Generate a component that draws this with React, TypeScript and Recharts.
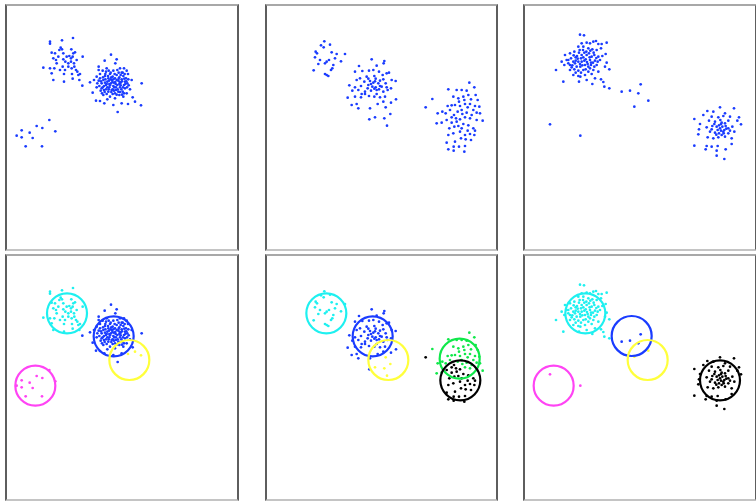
import { ScatterChart, Scatter, XAxis, YAxis } from "recharts";

type Pt = [number, number];

const p1Upper: Pt[] = [
  [150, 125], [150, 131], [186, 121], [219, 114], [182, 143], [186, 148], [178, 150], [155, 158],
  [165, 160], [190, 160], [214, 148], [208, 168], [220, 160], [225, 157], [218, 170], [213, 175],
  [160, 175], [168, 180], [175, 170], [190, 178], [196, 185], [205, 190], [213, 185], [222, 190],
  [248, 170], [130, 203], [150, 205], [163, 205], [180, 210], [188, 200], [195, 210], [205, 200],
  [215, 205], [223, 200], [228, 210], [232, 215], [235, 225], [155, 220], [192, 222], [216, 222],
  [240, 222], [160, 240], [192, 245], [218, 236], [238, 240], [170, 190], [200, 170], [230, 180],
];
const p1Center: Pt[] = [
  [333, 164], [314, 182], [350, 178], [346, 190], [296, 200], [296, 210], [320, 205], [360, 205],
  [372, 205], [380, 212], [384, 222], [270, 247], [282, 240], [290, 230], [395, 240], [425, 250],
  [278, 278], [290, 262], [288, 302], [300, 303], [313, 310], [322, 298], [340, 315], [353, 336],
  [365, 310], [398, 292], [390, 268], [380, 280], [370, 290], [345, 295], [330, 290], [310, 285],
  [300, 235], [305, 250], [310, 240], [315, 228], [318, 255], [322, 245], [325, 235], [328, 262],
  [330, 222], [333, 250], [336, 240], [338, 230], [340, 258], [342, 248], [345, 235], [348, 270],
  [350, 225], [352, 255], [355, 242], [358, 232], [360, 262], [362, 248], [365, 238], [368, 275],
  [370, 228], [372, 255], [375, 245], [305, 265], [312, 270], [318, 215], [325, 275], [335, 270],
  [345, 280], [355, 275], [362, 225], [368, 218], [375, 265], [378, 235], [382, 250], [300, 222],
  [308, 212], [326, 212], [340, 212], [352, 210], [365, 218], [298, 258], [292, 250], [306, 280],
  [320, 282], [338, 282], [358, 285], [372, 280], [385, 238], [247, 257], [315, 248], [328, 252],
  [348, 262], [358, 252], [332, 238], [346, 246], [322, 262], [364, 268], [312, 258], [338, 268],
  [303, 244], [309, 232], [316, 238], [320, 252], [324, 228], [327, 242], [330, 256], [334, 232],
  [337, 246], [340, 238], [343, 262], [347, 252], [350, 240], [353, 268], [356, 236], [359, 246],
  [362, 256], [366, 244], [369, 262], [373, 236], [376, 252], [379, 244], [318, 268], [326, 268],
  [334, 276], [342, 272], [350, 284], [360, 276], [366, 284], [316, 222], [332, 218], [344, 222],
  [356, 218], [374, 222], [308, 262], [302, 272], [381, 262], [386, 256], [296, 242], [314, 276],
];
const p1Stray: Pt[] = [[384, 312], [405, 305], [423, 316]];
const p1Lower: Pt[] = [
  [50, 407], [65, 391], [65, 412], [77, 439], [89, 398], [98, 414], [110, 378], [127, 384],
  [126, 439], [148, 360], [166, 394],
];

const p2Left: Pt[] = [
  [208, 124], [198, 136], [225, 134], [206, 142], [182, 155], [186, 160], [230, 157], [245, 162],
  [270, 162], [180, 172], [195, 180], [215, 185], [222, 180], [240, 175], [258, 184], [190, 192],
  [210, 190], [235, 195], [176, 211], [228, 210], [232, 205], [210, 222], [220, 228], [215, 225],
];
const p2Mid: Pt[] = [
  [350, 178], [388, 183], [386, 190], [365, 197], [312, 198], [300, 215], [322, 213], [342, 212],
  [355, 210], [372, 215], [395, 220], [402, 218], [383, 225], [358, 228], [335, 230], [315, 235],
  [305, 240], [328, 245], [345, 243], [375, 242], [385, 238], [410, 240], [422, 243], [283, 256],
  [300, 262], [318, 258], [340, 255], [352, 260], [362, 262], [375, 258], [395, 262], [408, 265],
  [292, 272], [310, 270], [330, 275], [348, 272], [365, 270], [385, 275], [398, 270], [300, 290],
  [318, 292], [342, 288], [358, 290], [375, 292], [390, 290], [278, 293], [423, 298], [408, 308],
  [290, 315], [305, 312], [310, 325], [345, 325], [368, 312], [385, 305], [343, 358], [330, 282],
  [365, 282], [380, 260], [355, 248], [338, 265], [320, 282], [348, 252], [360, 244], [370, 250],
  [358, 266], [372, 268], [340, 236], [362, 236], [392, 250],
];
const p2Stray: Pt[] = [[392, 322], [406, 342], [388, 355], [396, 377], [360, 352]];
const p2RightUp: Pt[] = [
  [643, 248], [580, 268], [605, 270], [620, 270], [635, 272], [658, 262], [640, 285], [662, 285],
  [532, 297], [595, 290], [610, 295], [625, 290], [648, 298], [668, 300], [562, 335], [578, 318],
  [590, 316], [600, 315], [615, 318], [630, 312], [645, 312], [660, 318], [673, 320], [548, 340],
  [572, 340], [585, 330], [608, 335], [620, 330], [635, 338], [650, 345], [665, 338], [675, 340],
  [630, 352], [645, 355], [683, 362], [665, 360], [545, 370], [560, 368], [628, 300], [638, 322],
  [622, 342], [655, 330], [612, 305],
];
const p2RightDown: Pt[] = [
  [512, 322], [597, 345], [590, 352], [603, 355], [615, 358], [575, 360], [583, 385], [598, 380],
  [610, 378], [625, 372], [640, 376], [655, 385], [580, 405], [595, 400], [615, 395], [630, 405],
  [645, 402], [658, 405], [575, 428], [600, 425], [618, 415], [632, 418], [648, 420], [596, 440],
  [612, 440], [630, 438], [580, 448], [596, 452], [628, 455], [660, 392], [605, 365], [620, 385],
  [590, 368], [638, 392],
];

const p3Upper: Pt[] = [
  [195, 104], [207, 106], [243, 123], [275, 128], [200, 130], [215, 128], [225, 130], [235, 125],
  [250, 132], [260, 132], [190, 140], [205, 140], [220, 145], [232, 148], [245, 150], [258, 145],
  [272, 162], [150, 165], [165, 160], [178, 155], [192, 158], [208, 158], [222, 160], [238, 165],
  [250, 170], [262, 168], [140, 185], [155, 180], [168, 175], [182, 172], [198, 175], [212, 178],
  [225, 180], [240, 182], [255, 180], [275, 188], [123, 210], [148, 195], [165, 195], [180, 190],
  [195, 192], [210, 195], [228, 195], [245, 195], [270, 200], [283, 208], [165, 210], [178, 208],
  [190, 212], [205, 210], [220, 215], [235, 210], [250, 215], [175, 225], [190, 228], [210, 225],
  [230, 222], [240, 235], [145, 245], [192, 245], [215, 240], [232, 252], [258, 238], [265, 246],
  [268, 260], [283, 265], [190, 185], [200, 165], [215, 165], [230, 170], [185, 200], [200, 185],
  [175, 185], [160, 180], [225, 205], [208, 182], [218, 192], [196, 200], [228, 188], [205, 172],
  [172, 196], [182, 182], [186, 168], [194, 150], [204, 150], [214, 155], [226, 152], [236, 158],
  [244, 174], [234, 188], [220, 200], [212, 208], [198, 218], [182, 218], [170, 202], [160, 190],
  [202, 196], [216, 186], [188, 176], [176, 166], [224, 172], [238, 200], [248, 185], [196, 230],
];
const p3Trail: Pt[] = [[320, 275], [345, 272], [377, 253], [370, 280]];
const p3Stray: Pt[] = [[400, 302], [358, 320]];
const p3Outliers: Pt[] = [[105, 373], [196, 407]];
const p3Right: Pt[] = [
  [615, 322], [657, 325], [577, 333], [595, 335], [630, 340], [565, 345], [590, 350], [610, 352],
  [625, 348], [645, 350], [672, 352], [538, 357], [582, 362], [600, 365], [620, 368], [640, 362],
  [667, 362], [678, 373], [555, 372], [575, 382], [592, 378], [605, 380], [615, 385], [628, 390],
  [640, 385], [652, 380], [552, 388], [585, 395], [600, 398], [612, 400], [625, 395], [640, 400],
  [658, 395], [550, 403], [578, 412], [595, 415], [610, 412], [630, 410], [650, 415], [538, 437],
  [575, 438], [590, 440], [608, 438], [650, 432], [572, 448], [605, 452], [632, 448], [605, 467],
  [628, 477], [618, 372], [608, 390], [632, 378], [620, 405], [598, 372], [612, 376], [622, 380],
  [634, 386], [618, 392], [604, 404], [626, 400], [616, 360], [590, 388], [645, 392], [630, 370],
];

// cluster circles: centres
const c1Centers: Pt[] = [[201, 190], [341, 259], [388, 330], [106, 407]];
const c2Centers: Pt[] = [[214, 190], [353, 259], [400, 330], [614, 326], [616, 391]];
const c3Centers: Pt[] = [[211, 190], [350, 258], [398, 330], [116, 407], [615, 391]];

const BLUE = "#1a3cff";
const CYAN = "#1ef0f0";
const YELLOW = "#ffff3c";
const MAGENTA = "#ff44f4";
const GREEN = "#10e84a";
const BLACK = "#000000";

const Y_DOMAIN: [number, number] = [12, 753];

const toPts = (arr: Pt[]) => arr.map(([x, y]) => ({ x, y }));

interface Group {
  data: Pt[];
  color: string;
}

function Panel({
  left,
  top,
  width,
  originX,
  groups,
  circles,
  circleColors,
}: {
  left: number;
  top: number;
  width: number;
  originX: number;
  groups: Group[];
  circles?: Pt[];
  circleColors?: string[];
}) {
  const height = 247;
  const xDomain: [number, number] = [3 * (left - originX), 3 * (left + width - originX)];
  const circleData = (circles || []).map(([x, y], i) => ({ x, y, color: circleColors![i] }));
  return (
    <div style={{ position: "absolute", left, top, width, height }}>
      <ScatterChart width={width} height={height} margin={{ top: 0, right: 0, bottom: 0, left: 0 }}>
        <XAxis type="number" dataKey="x" domain={xDomain} hide allowDataOverflow />
        <YAxis type="number" dataKey="y" domain={Y_DOMAIN} reversed hide allowDataOverflow />
        {groups.map((g, i) => (
          <Scatter
            key={i}
            data={toPts(g.data)}
            isAnimationActive={false}
            shape={(p: any) => <circle cx={p.cx} cy={p.cy} r={1.35} fill={g.color} />}
          />
        ))}
        {circleData.length > 0 && (
          <Scatter
            data={circleData}
            isAnimationActive={false}
            shape={(p: any) => (
              <circle cx={p.cx} cy={p.cy} r={20} fill="none" stroke={p.payload.color} strokeWidth={2.2} />
            )}
          />
        )}
      </ScatterChart>
      <div
        style={{
          position: "absolute",
          inset: 0,
          boxSizing: "border-box",
          borderTop: "2px solid #a8a8a8",
          borderBottom: "2px solid #c4c4c4",
          borderLeft: "2px solid #5e5e5e",
          borderRight: "2px solid #5e5e5e",
          pointerEvents: "none",
        }}
      />
    </div>
  );
}

export default function App() {
  const all1 = [p1Upper, p1Center, p1Stray, p1Lower];
  const all2 = [p2Left, p2Mid, p2Stray, p2RightUp, p2RightDown];
  const all3 = [p3Upper, p3Trail, p3Stray, p3Outliers, p3Right];
  const blue = (arrs: Pt[][]) => arrs.map((d) => ({ data: d, color: BLUE }));

  return (
    <div
      style={{
        position: "fixed",
        left: 0,
        top: 0,
        width: 756,
        height: 501,
        overflow: "hidden",
        background: "#fff",
      }}
    >
      <Panel left={5} top={4} width={234} originX={0} groups={blue(all1)} />
      <Panel left={265} top={4} width={233} originX={255} groups={blue(all2)} />
      <Panel left={523} top={4} width={234} originX={515} groups={blue(all3)} />

      <Panel
        left={5}
        top={254}
        width={234}
        originX={0}
        groups={[
          { data: p1Upper, color: CYAN },
          { data: p1Center, color: BLUE },
          { data: p1Stray, color: YELLOW },
          { data: p1Lower, color: MAGENTA },
        ]}
        circles={c1Centers}
        circleColors={[CYAN, BLUE, YELLOW, MAGENTA]}
      />
      <Panel
        left={265}
        top={254}
        width={233}
        originX={255}
        groups={[
          { data: p2Left, color: CYAN },
          { data: p2Mid, color: BLUE },
          { data: p2Stray, color: YELLOW },
          { data: p2RightUp, color: GREEN },
          { data: p2RightDown, color: BLACK },
        ]}
        circles={c2Centers}
        circleColors={[CYAN, BLUE, YELLOW, GREEN, BLACK]}
      />
      <Panel
        left={523}
        top={254}
        width={234}
        originX={515}
        groups={[
          { data: p3Upper, color: CYAN },
          { data: p3Trail, color: BLUE },
          { data: p3Stray, color: YELLOW },
          { data: p3Outliers, color: MAGENTA },
          { data: p3Right, color: BLACK },
        ]}
        circles={c3Centers}
        circleColors={[CYAN, BLUE, YELLOW, MAGENTA, BLACK]}
      />
    </div>
  );
}
